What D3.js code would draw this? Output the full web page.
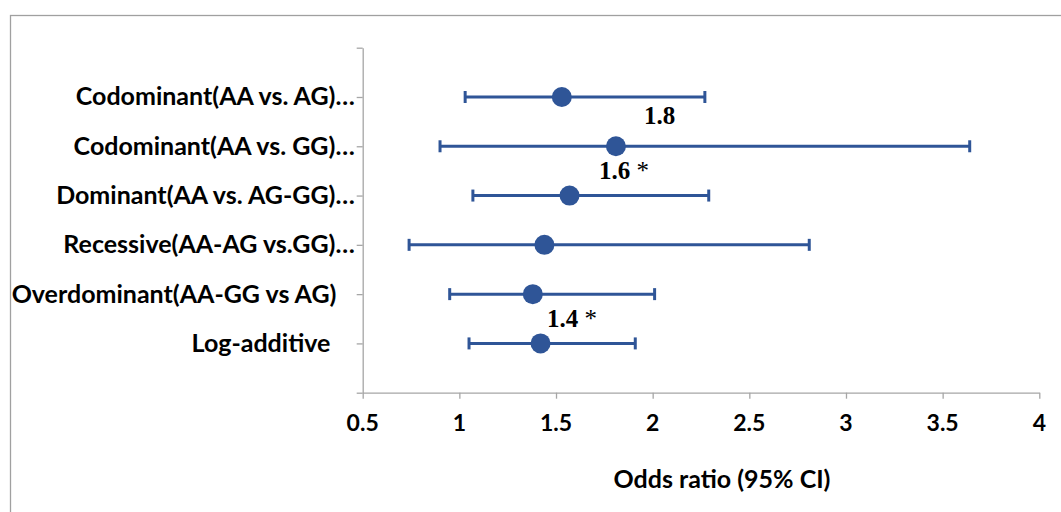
<!DOCTYPE html>
<html>
<head>
<meta charset="utf-8">
<script src="https://cdn.jsdelivr.net/npm/d3@7"></script>
<style>
  html, body { margin: 0; padding: 0; background: #fff; }
  svg { display: block; }
</style>
</head>
<body>
<svg id="chart" width="1061" height="512"></svg>
<script>
// ---- data ----
const categories = [
  "Codominant(AA vs. AG)\u2026",
  "Codominant(AA vs. GG)\u2026",
  "Dominant(AA vs. AG-GG)\u2026",
  "Recessive(AA-AG vs.GG)\u2026",
  "Overdominant(AA-GG vs AG)\u00a0\u00a0\u00a0",
  "Log-additive\u00a0\u00a0\u00a0\u00a0"
];
const positions = [6, 5, 4, 3, 2, 1];
const oddsRatio = [1.53, 1.81, 1.57, 1.44, 1.38, 1.42];
const ciLower   = [1.03, 0.90, 1.07, 0.74, 0.95, 1.05];
const ciUpper   = [2.27, 3.64, 2.29, 2.81, 2.01, 1.91];
const xTicks = [0.5, 1, 1.5, 2, 2.5, 3, 3.5, 4];
const yTicks = [0, 1, 2, 3, 4, 5, 6, 7];
const annoText = ["1.8", "1.6", "1.4"];
const annoStar = ["", "*", "*"];
const annoX = [1.955, 1.722, 1.453];
const annoY = [5.45, 4.336, 1.333];
const xTitle = "Odds ratio (95% CI)";

// ---- layout ----
const svg = d3.select("#chart");
const x = d3.scaleLinear().domain([0.5, 4]).range([362.7, 1039.3]);
const y = d3.scaleLinear().domain([0, 7]).range([392.7, 47.7]);
const blue = "#2f5597";
const axisColor = "#a6a6a6";
const labelFont = "Lato, 'Open Sans', sans-serif";

// chart border
svg.append("rect")
  .attr("x", 10.5).attr("y", 15.5)
  .attr("width", 1100).attr("height", 600)
  .attr("fill", "none").attr("stroke", "#a0a0a0").attr("stroke-width", 1.3);

// x axis
const xAxis = svg.append("g")
  .attr("transform", `translate(0,${y(0)})`)
  .call(d3.axisBottom(x).tickValues(xTicks).tickSize(6).tickSizeOuter(0).tickFormat(""));
xAxis.select(".domain").attr("stroke", axisColor).attr("stroke-width", 1.3);
xAxis.selectAll(".tick line").attr("stroke", axisColor).attr("stroke-width", 1.3);

// x tick labels
svg.append("g").selectAll("text")
  .data(xTicks).join("text")
  .attr("x", d => x(d)).attr("y", 430.5)
  .attr("text-anchor", "middle")
  .attr("font-family", labelFont).attr("font-weight", "bold")
  .attr("font-size", 23).attr("fill", "#000")
  .text(d => d);

// y axis
const yAxis = svg.append("g")
  .attr("transform", `translate(${x(0.5)},0)`)
  .call(d3.axisLeft(y).tickValues(yTicks).tickSize(6).tickSizeOuter(0).tickFormat(""));
yAxis.select(".domain").attr("stroke", axisColor).attr("stroke-width", 1.3);
yAxis.selectAll(".tick line").attr("stroke", axisColor).attr("stroke-width", 1.3);

// category labels
svg.append("g").selectAll("text")
  .data(categories).join("text")
  .attr("x", x(0.5) - 8)
  .attr("y", (d, i) => y(positions[i]))
  .attr("dy", "0.34em")
  .attr("text-anchor", "end")
  .attr("font-family", labelFont).attr("font-weight", "bold")
  .attr("font-size", 25).attr("fill", "#000")
  .text(d => d);

// x title
svg.append("text")
  .attr("x", (x(0.5) + x(4)) / 2 + 21).attr("y", 488)
  .attr("text-anchor", "middle")
  .attr("font-family", labelFont).attr("font-weight", "bold")
  .attr("font-size", 25).attr("fill", "#000")
  .text(xTitle);

// error bars
const g = svg.append("g");
const rows = categories.map((c, i) => ({ c, p: positions[i], or: oddsRatio[i], lo: ciLower[i], hi: ciUpper[i] }));
g.selectAll("line.ci").data(rows).join("line")
  .attr("x1", d => x(d.lo)).attr("x2", d => x(d.hi))
  .attr("y1", d => y(d.p)).attr("y2", d => y(d.p))
  .attr("stroke", blue).attr("stroke-width", 3);
["lo", "hi"].forEach(k => {
  g.selectAll("line.cap-" + k).data(rows).join("line")
    .attr("x1", d => x(d[k])).attr("x2", d => x(d[k]))
    .attr("y1", d => y(d.p) - 6).attr("y2", d => y(d.p) + 6)
    .attr("stroke", blue).attr("stroke-width", 3);
});
g.selectAll("circle").data(rows).join("circle")
  .attr("cx", d => x(d.or)).attr("cy", d => y(d.p))
  .attr("r", 10).attr("fill", blue);

// annotations
const anno = svg.append("g").selectAll("text")
  .data(annoText).join("text")
  .attr("x", (d, i) => x(annoX[i])).attr("y", (d, i) => y(annoY[i]))
  .attr("font-family", "'Liberation Serif', 'Times New Roman', serif")
  .attr("font-size", 25).attr("fill", "#000");
anno.append("tspan").attr("font-weight", "bold").text(d => d);
anno.append("tspan").attr("font-weight", "normal")
  .text((d, i) => annoStar[i] ? "\u00a0" + annoStar[i] : "");
</script>
</body>
</html>
